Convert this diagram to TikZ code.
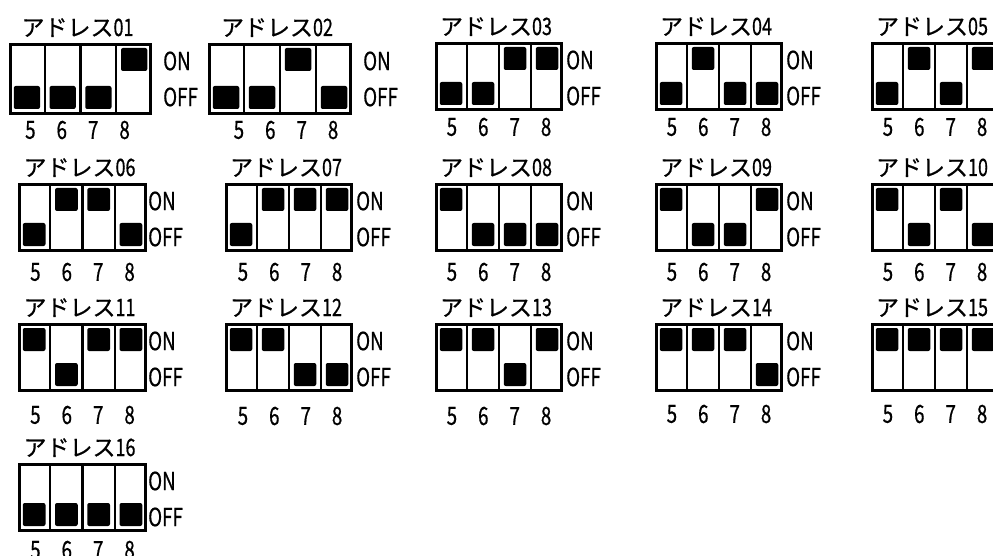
\documentclass[tikz,border=0pt]{standalone}
\usepackage{fontspec}
\usepackage{tikz}
\newfontfamily\jpfont[FakeBold=0.6]{Noto Sans CJK JP}
\newfontfamily\lblfont[FakeStretch=0.75, FakeBold=0.6]{Noto Sans CJK JP}

\begin{document}
\begin{tikzpicture}[x=1pt, y=-1pt,
    addrtitle/.style={font=\jpfont\fontsize{23}{23}\selectfont, inner sep=0pt, anchor=base},
    lbl/.style={font=\lblfont\fontsize{25}{25}\selectfont, inner sep=0pt},
    casing/.style={line width=3pt},
    wall/.style={line width=2.4pt},
    knob/.style={fill=black, rounded corners=2pt}]
    \useasboundingbox (0,0) rectangle (993,556);
    % address / left / top / width / height / shift of 5-8 / drop of 5-8 / gap to ON,OFF / switches 5..8
    \foreach \n/\bx/\by/\bw/\bh/\ns/\nd/\lg/\sw in {
        01/9/43/143/72/-3/15/11/{0,0,0,1},
        02/208/43/144/72/6/15/11/{0,0,1,0},
        03/435/42/128/69/0/16/3/{0,0,1,1},
        04/655/42/128/69/0/16/3/{0,1,0,0},
        05/871/42/128/69/0/16/3/{0,1,0,1},
        06/18/183/129/69/0/20/1/{0,1,1,0},
        07/225/183/128/69/1/20/3/{0,1,1,1},
        08/435/183/128/69/0/20/3/{1,0,0,0},
        09/655/183/128/69/0/20/3/{1,0,0,1},
        10/871/183/128/69/0/20/3/{1,0,1,0},
        11/18/323/129/69/0/23/1/{1,0,1,1},
        12/225/323/128/69/1/24/3/{1,1,0,0},
        13/435/323/128/69/0/24/3/{1,1,0,1},
        14/655/323/128/69/0/22/3/{1,1,1,0},
        15/871/323/128/69/0/22/3/{1,1,1,1},
        16/18/463/129/69/0/18/1/{0,0,0,0}}
    {
        \pgfmathsetmacro\cw{\bw/4}
        % casing and walls
        \draw[casing] (\bx+1.5,\by+1.5) rectangle (\bx+\bw-1.5,\by+\bh-1.5);
        \foreach \k in {1,2,3}
            \draw[wall] (\bx+\k*\cw,\by+1.5) -- (\bx+\k*\cw,\by+\bh-1.5);
        % knobs: 1 = ON (top), 0 = OFF (bottom)
        \foreach \on [count=\k] in \sw {
            \pgfmathsetmacro\kx{\bx+(\k-1)*\cw+4.75}
            \ifnum\on=1 \pgfmathsetmacro\ky{\by+5}\else\pgfmathsetmacro\ky{\by+\bh-29}\fi
            \fill[knob] (\kx,\ky) rectangle ++(\cw-9.5,23);
        }
        % title
        \node[addrtitle] (t\n) at (\bx+\bw/2-3,\by-7)
            {アドレス{\lblfont\fontsize{24}{24}\selectfont\n}};
        % switch numbers
        \foreach \k in {5,...,8}
            \node[lbl] (n\n-\k) at ({\bx+\bw/2+\ns+(\k-6.5)*31.4},{\by+\bh+\nd}) {\k};
        % ON / OFF (right column runs off the page)
        \ifnum\bx<800
            \node[lbl, anchor=west] (on\n) at (\bx+\bw+\lg,\by+18) {ON};
            \node[lbl, anchor=west] (off\n) at (\bx+\bw+\lg,\by+54) {OFF};
        \fi
    }
\end{tikzpicture}
\end{document}
